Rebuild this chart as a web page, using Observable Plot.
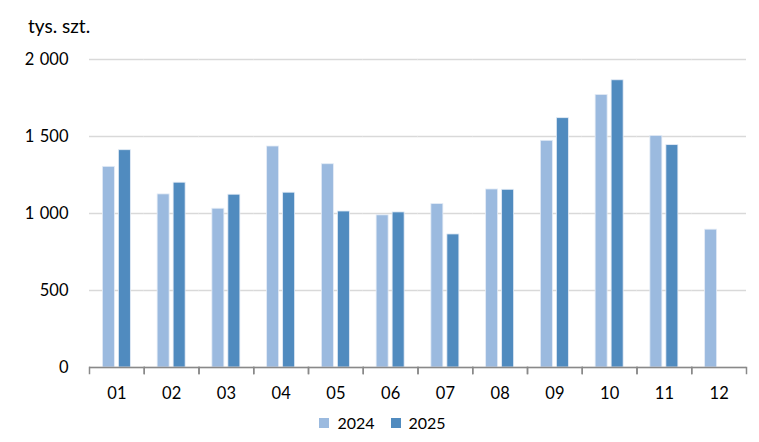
<!DOCTYPE html>
<html>
<head>
<meta charset="utf-8">
<script src="https://cdn.jsdelivr.net/npm/d3@7"></script>
<script src="https://cdn.jsdelivr.net/npm/@observablehq/plot@0.6"></script>
<style>
  body { margin: 0; background: #fff; font-family: Lato, "Open Sans", sans-serif; }
  #title { height: 40px; box-sizing: border-box; padding-left: 28px; padding-top: 16px; font-size: 19px; line-height: 20px; color: #000; }
  #chart svg { display: block; }
  #legend { display: flex; justify-content: center; margin-top: -2px; padding-left: 22px; }
  #legend div { font-size: 16px !important; font-family: Lato, sans-serif !important; color: #000; }
</style>
</head>
<body>
<div id="title">tys. szt.</div>
<div id="chart"></div>
<div id="legend"></div>
<script>
const months = ["01","02","03","04","05","06","07","08","09","10","11","12"];
const years = ["2024","2025"];
const values2024 = [1303, 1124, 1031, 1435, 1320, 988, 1061, 1156, 1472, 1770, 1504, 895];
const values2025 = [1411, 1200, 1122, 1135, 1013, 1007, 864, 1154, 1619, 1865, 1444, null];
const yTicks = [0, 500, 1000, 1500, 2000];
const colors = ["#9BBADF", "#508BBF"];

const data = [];
months.forEach((m, i) => {
  if (values2024[i] != null) data.push({month: m, year: "2024", value: values2024[i]});
  if (values2025[i] != null) data.push({month: m, year: "2025", value: values2025[i]});
});

const fmt = d => d3.format(",")(d).replace(/,/g, "\u2004");

const chart = Plot.plot({
  width: 759,
  height: 368,
  marginTop: 19,
  marginBottom: 41,
  marginLeft: 89,
  marginRight: 13,
  style: {fontFamily: "Lato, sans-serif", fontSize: "16px", color: "#000", background: "#fff"},
  fx: {domain: months, padding: 0, round: false, label: null},
  x: {domain: years, paddingInner: 0.25, paddingOuter: 0.836, round: false, axis: null},
  y: {domain: [0, 2000], ticks: yTicks, label: null},
  color: {domain: years, range: colors},
  marks: [
    Plot.gridY(yTicks, {stroke: "#d9d9d9", strokeOpacity: 1, strokeWidth: 1.5}),
    Plot.axisY(yTicks, {tickSize: 0, tickPadding: 21, tickFormat: fmt, fontSize: 16.5, label: null}),
    Plot.axisFx({anchor: "bottom", tickSize: 0, tickPadding: 20, fontSize: 16.5, label: null}),
    Plot.barY(data, {fx: "month", x: "year", y: "value", fill: "year", stroke: "#e4ecf6", strokeWidth: 0.8}),
    Plot.ruleY([0], {stroke: "#898989", strokeWidth: 1.5}),
    Plot.frame({anchor: "left", stroke: "#898989", strokeWidth: 1.5, insetTop: 308, insetBottom: -6}),
    Plot.frame({anchor: "right", stroke: "#898989", strokeWidth: 1.5, insetTop: 308, insetBottom: -6})
  ]
});
document.getElementById("chart").appendChild(chart);

const legend = Plot.legend({
  color: {domain: years, range: colors},
  swatchSize: 10,
  style: {fontFamily: "Lato, sans-serif", fontSize: "16px"}
});
document.getElementById("legend").appendChild(legend);
</script>
</body>
</html>
